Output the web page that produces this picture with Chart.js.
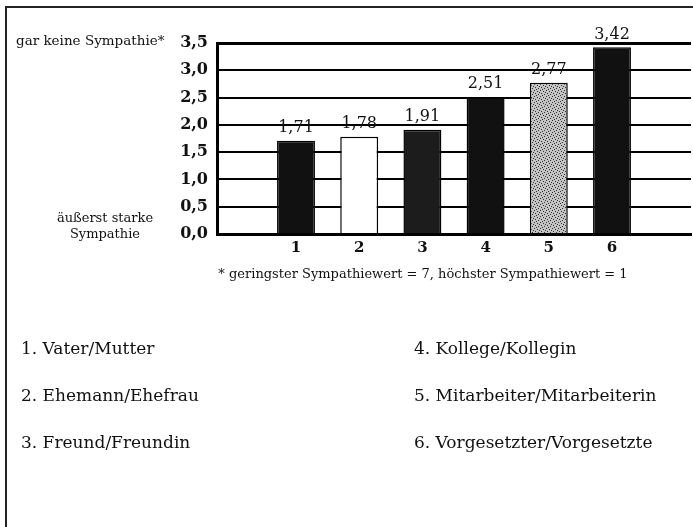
<!DOCTYPE html>
<html>
<head>
<meta charset="utf-8">
<script src="https://cdn.jsdelivr.net/npm/chart.js@4"></script>
<style>
  body { margin: 0; background: #fff; }
  #wrap { position: relative; width: 693px; height: 527px; overflow: hidden; font-family: "DejaVu Serif", serif; color: #111; }
  #frame { position: absolute; left: 5px; top: 6px; width: 700px; height: 540px; border-left: 2px solid #222; border-top: 2px solid #222; }
  .txt { position: absolute; white-space: nowrap; line-height: 18px; }
  .small { font-size: 13px; }
  .item { font-size: 17px; }
</style>
</head>
<body>
<div id="wrap">
  <canvas id="chart" width="693" height="527"></canvas>
  <div id="frame"></div>
  <div class="txt small" style="left:16px; top:31px; font-size:13.5px;">gar keine Sympathie*</div>
  <div class="txt small" style="left:45px; top:210px; width:120px; text-align:center; line-height:16px;">äußerst starke<br>Sympathie</div>
  <div class="txt small" style="left:173px; top:265px; width:500px; text-align:center;">* geringster Sympathiewert = 7, höchster Sympathiewert = 1</div>
  <div id="legend"></div>
</div>
<script>
// Sympathiewerte (1 = höchste Sympathie, 7 = geringste)
const categories = [1, 2, 3, 4, 5, 6];
const values = [1.71, 1.78, 1.91, 2.51, 2.77, 3.42];
const names = [
  'Vater/Mutter',
  'Ehemann/Ehefrau',
  'Freund/Freundin',
  'Kollege/Kollegin',
  'Mitarbeiter/Mitarbeiterin',
  'Vorgesetzter/Vorgesetzte'
];
const yTicks = [0, 0.5, 1, 1.5, 2, 2.5, 3, 3.5];

function fmt(v, digits) {
  return v.toFixed(digits).replace('.', ',');
}

// stippled grey fill for bar 5
function stipple() {
  const c = document.createElement('canvas');
  c.width = 6; c.height = 6;
  const g = c.getContext('2d');
  g.fillStyle = '#c4c4c4';
  g.fillRect(0, 0, 6, 6);
  g.fillStyle = '#333';
  [[0, 0], [3, 1], [1, 3], [4, 4], [5, 2], [2, 5]].forEach(p => g.fillRect(p[0], p[1], 1, 1));
  return g.createPattern(c, 'repeat');
}

const fills = ['#111', '#fff', '#1c1c1c', '#111', stipple(), '#111'];

// legend below the chart
const legend = document.getElementById('legend');
names.forEach((n, i) => {
  const d = document.createElement('div');
  d.className = 'txt item';
  d.style.left = (i < 3 ? 21 : 414) + 'px';
  d.style.top = (339 + (i % 3) * 47) + 'px';
  d.textContent = categories[i] + '. ' + n;
  legend.appendChild(d);
});

const valueLabels = {
  id: 'valueLabels',
  afterDatasetsDraw(chart) {
    const ctx = chart.ctx;
    const meta = chart.getDatasetMeta(0);
    ctx.save();
    ctx.font = '16px "DejaVu Serif"';
    ctx.fillStyle = '#111';
    ctx.textAlign = 'center';
    ctx.textBaseline = 'middle';
    meta.data.forEach((bar, i) => {
      ctx.fillText(fmt(values[i], 2), bar.x, bar.y - 13);
    });
    ctx.restore();
  }
};

new Chart(document.getElementById('chart'), {
  type: 'bar',
  data: {
    datasets: [{
      data: categories.map((c, i) => ({ x: c, y: values[i] })),
      backgroundColor: fills,
      borderColor: '#000',
      borderWidth: 1.5,
      barPercentage: 0.6,
      categoryPercentage: 1
    }]
  },
  options: {
    responsive: false,
    animation: false,
    layout: { padding: { left: 0, right: 2, top: 43, bottom: 273 } },
    plugins: { legend: { display: false }, tooltip: { enabled: false } },
    scales: {
      x: {
        type: 'linear',
        offset: false,
        min: -0.25,
        max: 7.25,
        afterBuildTicks: s => { s.ticks = categories.map(v => ({ value: v })); },
        afterFit: s => { s.height = 20; },
        grid: { drawOnChartArea: false, drawTicks: false, offset: false },
        border: { display: true, color: '#000', width: 3 },
        ticks: {
          padding: 5,
          color: '#111',
          font: { family: 'DejaVu Serif', size: 15, weight: 'bold' },
          callback: v => String(v)
        }
      },
      y: {
        min: 0,
        max: 3.5,
        afterBuildTicks: s => { s.ticks = yTicks.map(v => ({ value: v })); },
        afterFit: s => { s.width = 217; },
        grid: {
          color: '#000',
          lineWidth: c => (c.tick && c.tick.value === 3.5 ? 3 : 2),
          drawTicks: false
        },
        border: { display: true, color: '#000', width: 3 },
        ticks: {
          padding: 9,
          color: '#111',
          font: { family: 'DejaVu Serif', size: 16, weight: 'bold' },
          callback: v => fmt(v, 1)
        }
      }
    }
  },
  plugins: [valueLabels]
});
</script>
</body>
</html>
